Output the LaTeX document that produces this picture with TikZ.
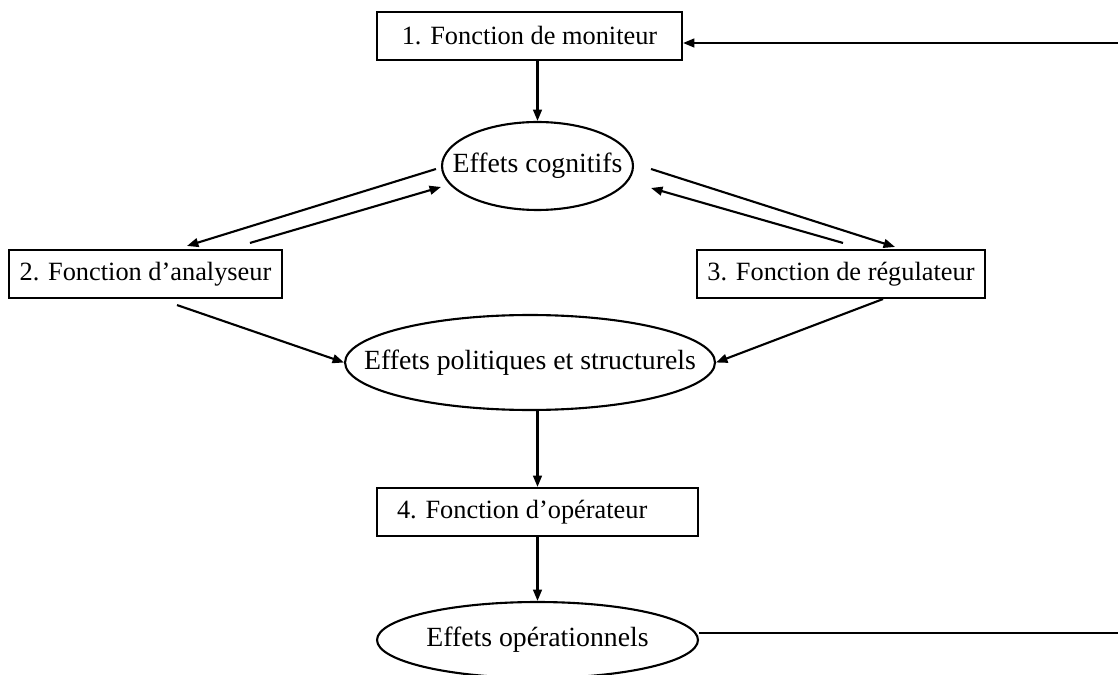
\documentclass[tikz,border=0pt]{standalone}
\usepackage{fontspec}
\setmainfont{Liberation Serif}
\usetikzlibrary{arrows.meta,shapes.geometric}

\begin{document}
\begin{tikzpicture}[x=0.02cm, y=-0.02cm, line width=1.2pt, >={Triangle[length=6.5pt,width=5pt]}]
  \useasboundingbox (0,0) rectangle (1118,675);
  \tikzset{
    fonc/.style={draw, rectangle, inner sep=0pt, minimum height=0.96cm, font=\fontsize{15}{18}\selectfont},
    effet/.style={draw, ellipse, inner sep=0pt, inner xsep=-1.2cm, font=\fontsize{15.8}{19}\selectfont}
  }

  % --- functions (boxes)
  \node[fonc, minimum width=6.1cm]  (f1) at (529.5,36)  {1. Fonction de moniteur};
  \node[fonc, minimum width=5.46cm] (f2) at (145.5,274) {2. Fonction d’analyseur};
  \node[fonc, minimum width=5.76cm] (f3) at (841,274)   {3. Fonction de régulateur};
  \node[fonc, text width=5.62cm, inner xsep=0.4cm, align=flush left] (f4) at (537.5,512) {4. Fonction d’opérateur};

  % --- effects (ellipses)
  \node[effet, minimum width=3.82cm, minimum height=1.76cm] (cog) at (537.5,166) {Effets cognitifs};
  \node[effet, minimum width=7.4cm, minimum height=1.9cm]   (pol) at (530,362.5) {Effets politiques et structurels};
  \node[effet, minimum width=6.42cm, minimum height=1.52cm] (ope) at (537.5,640) {Effets opérationnels};

  % --- free ends of the feedback loop (cut at the right edge)
  \coordinate (fbT) at (1118,43);
  \coordinate (fbB) at (1118,633);

  % --- vertical flow
  \draw[->] (cog.north |- f1.south) -- (cog.north);
  \draw[->] (f4.north |- pol.south) -- (f4.north);
  \draw[->] (f4.south) -- (f4.south |- ope.north);

  % --- cognitive effects <-> analyser / regulator
  \draw[->] ([xshift=-0.1cm,yshift=-0.06cm]cog.west) -- ([xshift=0.83cm,yshift=0.06cm]f2.north);
  \draw[->] ([xshift=2.09cm,yshift=0.12cm]f2.north) -- ([yshift=-0.42cm]cog.west);
  \draw[->] ([xshift=0.34cm,yshift=-0.06cm]cog.east) -- ([xshift=1.08cm,yshift=0.04cm]f3.north);
  \draw[->] ([xshift=0.04cm,yshift=0.12cm]f3.north) -- ([xshift=0.34cm,yshift=-0.44cm]cog.east);

  % --- analyser / regulator -> political effects
  \draw[->] ([xshift=0.63cm,yshift=-0.12cm]f2.south) -- (pol.west);
  \draw[->] ([xshift=0.84cm]f3.south) -- (pol.east);

  % --- feedback
  \draw (ope.east |- fbB) -- (fbB);
  \draw[->] (fbT) -- (f1.east |- fbT);

\end{tikzpicture}
\end{document}
